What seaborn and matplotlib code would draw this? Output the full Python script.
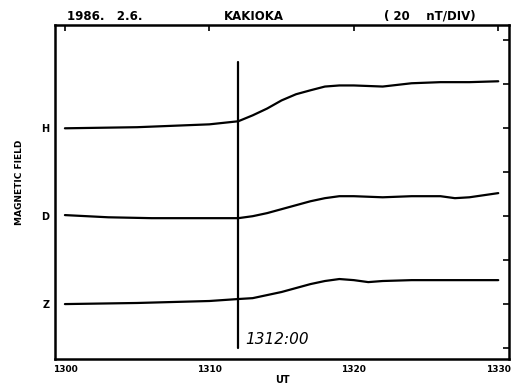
import matplotlib
matplotlib.use("Agg")
import matplotlib.pyplot as plt
import seaborn as sns
import pandas as pd

# ---- data (UT minutes, nT relative offsets; 20 nT per division) ----
h_time = [1300, 1305, 1310, 1312, 1313, 1314, 1315, 1316, 1317, 1318, 1319, 1320, 1322, 1324, 1326, 1328, 1330]
h_val = [100, 100.5, 101.8, 103.2, 105.9, 109, 112.7, 115.5, 117.3, 119, 119.5, 119.5, 119, 120.5, 121, 121, 121.4]

d_time = [1300, 1303, 1306, 1310, 1312, 1313, 1314, 1315, 1316, 1317, 1318, 1319, 1320, 1322, 1324, 1326, 1327, 1328, 1330]
d_val = [60.5, 59.5, 59.1, 59.1, 59.1, 60, 61.4, 63.2, 65, 66.8, 68.2, 69.1, 69.1, 68.6, 69.1, 69.1, 68.2, 68.6, 70.5]

z_time = [1300, 1305, 1310, 1312, 1313, 1314, 1315, 1316, 1317, 1318, 1319, 1320, 1321, 1322, 1324, 1326, 1328, 1330]
z_val = [20, 20.5, 21.4, 22.3, 22.7, 24.1, 25.5, 27.3, 29.1, 30.5, 31.4, 30.9, 30, 30.5, 30.9, 30.9, 30.9, 30.9]

x_ticks = [1300, 1310, 1320, 1330]
y_ticks = [0, 20, 40, 60, 80, 100, 120, 140]
y_tick_labels = ["", "Z", "", "D", "", "H", "", ""]
onset_time = 1312
onset_label = "1312:00"
title_left = "1986.   2.6."
title_center = "KAKIOKA"
title_right = "( 20    nT/DIV)"

sns.set_style("white")
plt.rcParams["font.family"] = ["DejaVu Sans"]
plt.rcParams["text.color"] = "black"
plt.rcParams["xtick.color"] = "black"
plt.rcParams["ytick.color"] = "black"
plt.rcParams["axes.labelcolor"] = "black"

fig = plt.figure(figsize=(5.27, 3.85), dpi=100)
ax = fig.add_axes([0.104, 0.0675, 0.862, 0.8675])

df = pd.concat([
    pd.DataFrame({"t": h_time, "v": h_val, "c": "H"}),
    pd.DataFrame({"t": d_time, "v": d_val, "c": "D"}),
    pd.DataFrame({"t": z_time, "v": z_val, "c": "Z"}),
])
sns.lineplot(data=df, x="t", y="v", units="c", estimator=None, color="black",
             linewidth=1.6, ax=ax, legend=False)

ax.plot([onset_time, onset_time], [0, 130], color="black", linewidth=1.6)
ax.text(onset_time + 0.45, 0.3, onset_label, fontsize=11, style="italic",
        ha="left", va="bottom", color="black")

ax.set_xlim(1299.3, 1330.75)
ax.set_ylim(-5, 147)
ax.set_xticks(x_ticks)
ax.set_xticklabels([str(t) for t in x_ticks], fontsize=6.5, fontweight="bold")
ax.set_yticks(y_ticks)
ax.set_yticklabels(y_tick_labels, fontsize=7, fontweight="bold")
ax.tick_params(direction="in", length=4, width=1.2, top=True, right=True, pad=4)
ax.tick_params(axis="x", pad=4)
for s in ax.spines.values():
    s.set_linewidth(1.8)
    s.set_color("black")

ax.set_xlabel("UT", fontsize=7, fontweight="bold", labelpad=1)
ax.set_ylabel("MAGNETIC FIELD", fontsize=6.5, fontweight="bold")
ax.yaxis.set_label_coords(-0.068, 0.53)

fig.text(0.127, 0.958, title_left, fontsize=8.5, fontweight="bold", ha="left", va="center")
fig.text(0.482, 0.958, title_center, fontsize=8.5, fontweight="bold", ha="center", va="center")
fig.text(0.728, 0.958, title_right, fontsize=8.5, fontweight="bold", ha="left", va="center")

fig.savefig("out.png", dpi=100)
